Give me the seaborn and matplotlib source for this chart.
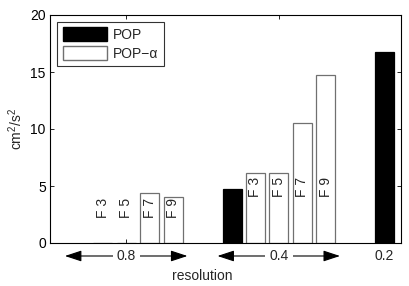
import numpy as np
import pandas as pd
import matplotlib
matplotlib.use("Agg")
import matplotlib.pyplot as plt
import matplotlib.transforms as mtransforms
from matplotlib.patches import Patch
import seaborn as sns

# ---- data ----
resolutions = ["0.8", "0.4", "0.2"]
pop_values = [np.nan, 4.7, 16.75]            # POP per resolution
filter_labels = ["F 3", "F 5", "F 7", "F 9"]
popa_values = {                                # POP-alpha per resolution
    "0.8": [0.0, 0.0, 4.37, 4.0],
    "0.4": [6.1, 6.1, 10.55, 14.76],
}
series_names = ["POP", "POP\u2212\u03b1"]

# ---- layout ----
group_step = 6.5
label_top = {"0.8": 3.95, "0.4": 5.8}
FS = 10

sns.set_theme(style="white")
plt.rcParams["font.family"] = ["Liberation Sans", "DejaVu Sans"]
plt.rcParams["mathtext.default"] = "regular"

rows = []
for g, res in enumerate(resolutions):
    start = g * group_step
    if not np.isnan(pop_values[g]):
        rows.append({"x": start, "value": pop_values[g], "series": series_names[0]})
    if res in popa_values:
        for k, v in enumerate(popa_values[res]):
            rows.append({"x": start + 1 + k, "value": v, "series": series_names[1]})
df = pd.DataFrame(rows)

fig = plt.figure(figsize=(4.10, 2.86), dpi=100)
ax = fig.add_axes([50 / 410, 43 / 286, 351 / 410, 228 / 286])

sns.barplot(data=df, x="x", y="value", hue="series", native_scale=True,
            dodge=False, width=0.81, palette={series_names[0]: "black", series_names[1]: "white"},
            hue_order=series_names, legend=False, ax=ax, saturation=1)

for p in ax.patches:
    fc = p.get_facecolor()
    if fc[0] < 0.5:
        p.set_edgecolor("black")
    else:
        p.set_edgecolor("#707070")
    p.set_linewidth(0.9)

ax.set_xlim(-1.255, 13.70)
ax.set_ylim(0, 20)
ax.set_yticks([0, 5, 10, 15, 20])
ax.set_xticks([2, 2 + group_step])
ax.set_xticklabels([])
ax.set_xlabel("")
ax.set_ylabel("cm$^2$/s$^2$", fontsize=FS, labelpad=4)
ax.tick_params(axis="both", direction="in", length=3, width=0.6, top=True, right=True,
               bottom=True, left=True, labelsize=FS, colors="black", pad=3)
for s in ax.spines.values():
    s.set_visible(True)
    s.set_color("black")
    s.set_linewidth(0.8)

# filter labels
for g, res in enumerate(resolutions):
    if res not in popa_values:
        continue
    start = g * group_step
    for k, lab in enumerate(filter_labels):
        ax.text(start + 1 + k, label_top[res], lab, rotation=90, ha="center", va="top",
                fontsize=FS)

# resolution arrows below axis
trans = mtransforms.blended_transform_factory(ax.transData, ax.transAxes)
arrow_y = -0.057
for g, res in enumerate(resolutions):
    start = g * group_step
    if res in popa_values:
        center = start + 2
        ax.annotate("", xy=(start - 0.62, arrow_y), xytext=(start + 4.6, arrow_y),
                    xycoords=trans, textcoords=trans, annotation_clip=False,
                    arrowprops=dict(arrowstyle="<|-|>,head_length=0.85,head_width=0.28",
                                    color="black", lw=0.8, shrinkA=0, shrinkB=0,
                                    mutation_scale=12))
        ax.text(center, arrow_y, res, transform=trans, ha="center", va="center",
                fontsize=FS, clip_on=False,
                bbox=dict(boxstyle="square,pad=0.3", fc="white", ec="none"))
    else:
        ax.text(start, arrow_y, res, transform=trans, ha="center", va="center",
                fontsize=FS, clip_on=False)

ax.text(2 + group_step / 2, -0.145, "resolution", transform=trans, ha="center",
        va="center", fontsize=FS, clip_on=False)

handles = [Patch(facecolor="black", edgecolor="black", label=series_names[0]),
           Patch(facecolor="white", edgecolor="#707070", label=series_names[1])]
leg = ax.legend(handles=handles, loc="upper left", bbox_to_anchor=(0.02, 0.97),
                borderaxespad=0, fancybox=False, frameon=True, fontsize=FS,
                handlelength=3.2, handleheight=1.15, handletextpad=0.4,
                labelspacing=0.3, borderpad=0.4)
leg.get_frame().set_edgecolor("black")
leg.get_frame().set_linewidth(0.8)

fig.savefig("out.png", dpi=100, facecolor="white")
